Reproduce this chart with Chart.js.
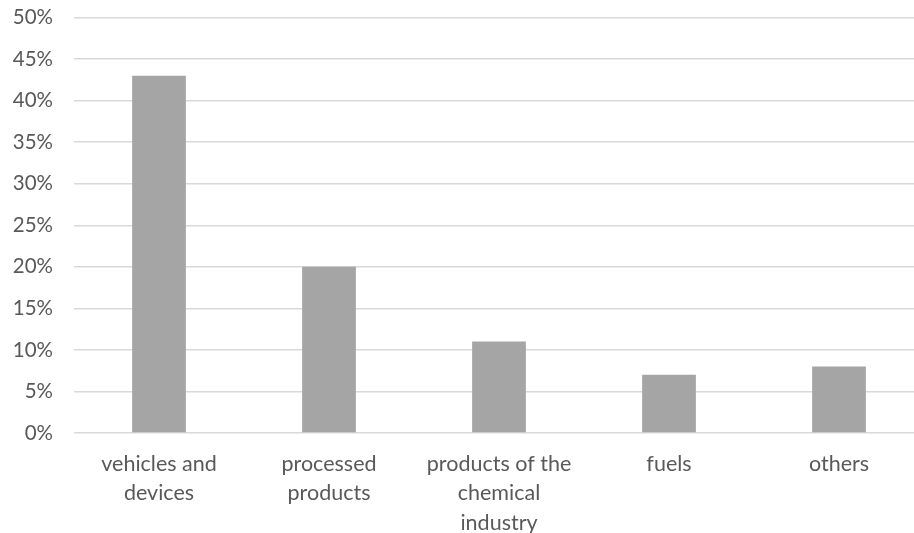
<!DOCTYPE html>
<html>
<head>
<meta charset="utf-8">
<script src="https://cdn.jsdelivr.net/npm/chart.js@4/dist/chart.umd.min.js"></script>
<style>
  html, body { margin: 0; padding: 0; background: #ffffff; overflow: hidden; }
  /* the plot area runs a little past the right edge of the visible frame */
  #wrap { width: 914px; height: 533px; overflow: hidden; }
</style>
</head>
<body>
<div id="wrap"><canvas id="c" width="924" height="533"></canvas></div>
<script>
// Share of goods by category (percent)
const categories = [
  ["vehicles and", "devices"],
  ["processed", "products"],
  ["products of the", "chemical", "industry"],
  "fuels",
  "others"
];
const shares = [43, 20, 11, 7, 8];
const yTicks = [0, 5, 10, 15, 20, 25, 30, 35, 40, 45, 50];

const textColor = "#595959";
const fontFamily = "Lato, 'Open Sans', 'Liberation Sans', sans-serif";

new Chart(document.getElementById("c"), {
  type: "bar",
  data: {
    labels: categories,
    datasets: [{
      data: shares,
      backgroundColor: "#a5a5a5",
      borderWidth: 0,
      categoryPercentage: 1.0,
      barPercentage: 0.316
    }]
  },
  options: {
    responsive: false,
    animation: false,
    devicePixelRatio: 1,
    layout: { padding: { top: 17.5, left: 6, right: 0, bottom: 0 } },
    plugins: { legend: { display: false }, tooltip: { enabled: false } },
    scales: {
      x: {
        afterFit: (axis) => {
          axis.height = 100;
          axis.paddingLeft = 0;
          axis.paddingRight = 0;
        },
        grid: { display: false, drawTicks: false },
        border: { display: false },
        ticks: {
          color: textColor,
          font: { family: fontFamily, size: 21.5, lineHeight: 1.372 },
          padding: 16,
          maxRotation: 0,
          autoSkip: false
        }
      },
      y: {
        min: 0,
        max: 50,
        afterBuildTicks: (axis) => { axis.ticks = yTicks.map(v => ({ value: v })); },
        afterFit: (axis) => {
          axis.width = 68;
          axis.paddingTop = 0;
          axis.paddingBottom = 0;
        },
        grid: { color: "#d9d9d9", lineWidth: 1.5, drawTicks: false },
        border: { display: false },
        ticks: {
          color: textColor,
          font: { family: fontFamily, size: 20.5 },
          padding: 21,
          callback: (v) => v + "%"
        }
      }
    }
  }
});
</script>
</body>
</html>
